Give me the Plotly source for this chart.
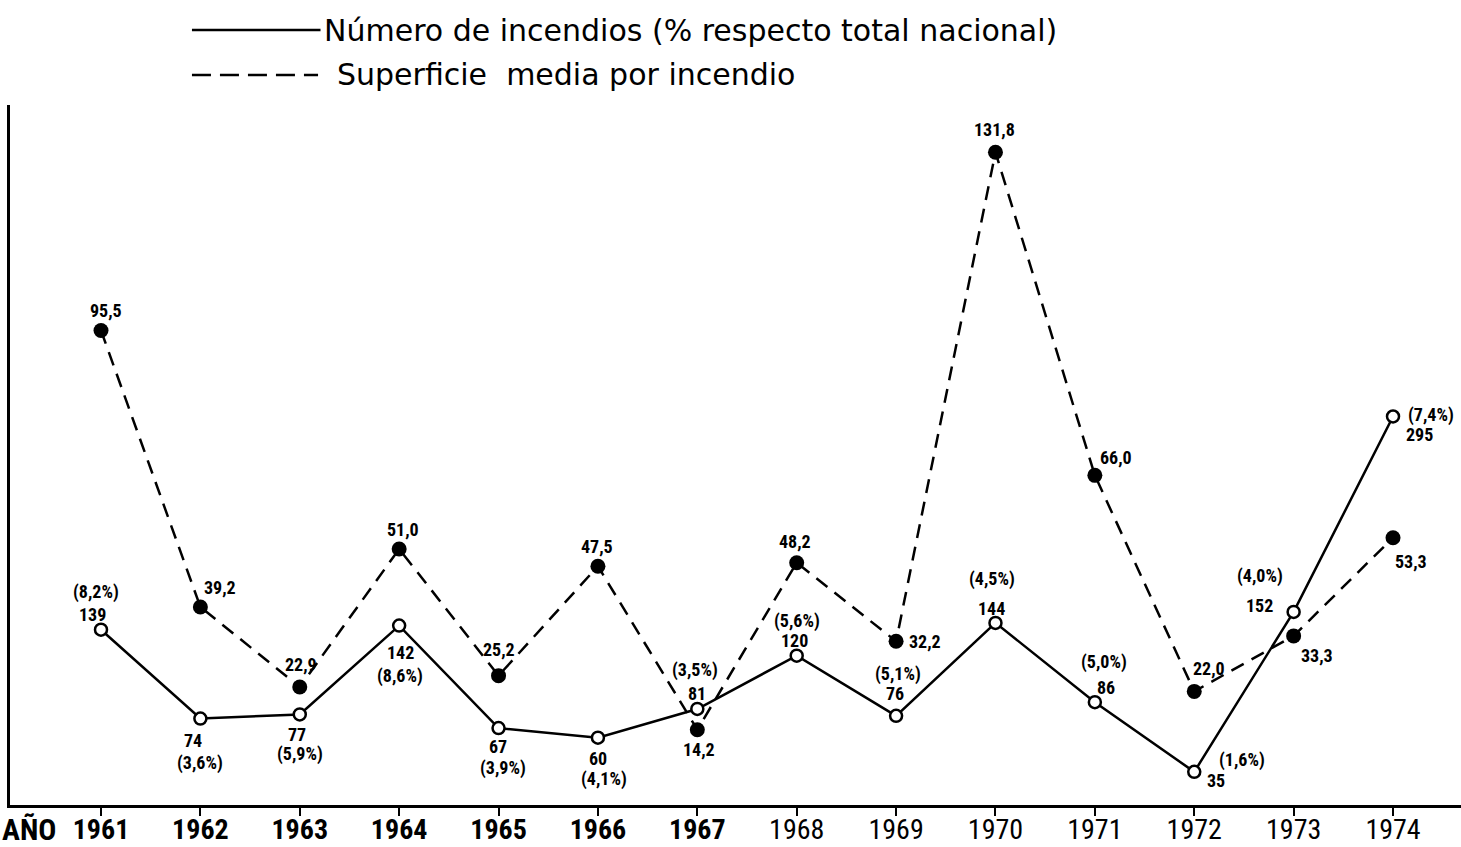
import plotly.graph_objects as go

# data
years = list(range(1961, 1975))
num_incendios = [139, 74, 77, 142, 67, 60, 81, 120, 76, 144, 86, 35, 152, 295]
pct_nacional = ["8,2", "3,6", "5,9", "8,6", "3,9", "4,1", "3,5", "5,6", "5,1",
                "4,5", "5,0", "1,6", "4,0", "7,4"]
superficie_media = [95.5, 39.2, 22.9, 51.0, 25.2, 47.5, 14.2, 48.2, 32.2,
                    131.8, 66.0, 22.0, 33.3, 53.3]

# label offsets in screen pixels (dx, dy) from each marker
sup_off = [(5, -20), (20, -19), (1, -22), (4, -20), (0, -26), (-1, -20), (2, 20),
           (-2, -21), (29, 0), (-1, -23), (21, -18), (15, -23), (23, 20), (18, 24)]
num_off = [(-9, -15), (-7, 22), (-3, 20), (1, 27), (-1, 18), (0, 21), (0, -15),
           (-2, -15), (-1, -22), (-4, -14), (11, -15), (22, 9), (-34, -6), (26, 18)]
pct_off = [(-5, -38), (0, 44), (0, 40), (1, 50), (4, 40), (6, 41), (-2, -39),
           (0, -35), (2, -42), (-3, -44), (9, -40), (48, -12), (-34, -36), (38, -1)]

FONT = "Liberation Sans Narrow, Roboto Condensed, Arial Narrow, DejaVu Sans Condensed, Roboto"
LBL = dict(family=FONT, size=18, color="black")

fig = go.Figure()

fig.add_trace(go.Scatter(
    x=years, y=superficie_media, yaxis="y2", mode="lines+markers",
    line=dict(color="black", width=2.5, dash="14px,9px"),
    marker=dict(color="black", size=15),
    showlegend=False, hoverinfo="x+y",
))
fig.add_trace(go.Scatter(
    x=years, y=num_incendios, mode="lines+markers",
    line=dict(color="black", width=2.5),
    marker=dict(color="white", size=12, line=dict(color="black", width=2.5)),
    showlegend=False, hoverinfo="x+y",
))

ann = []
for yr, v, (dx, dy) in zip(years, superficie_media, sup_off):
    ann.append(dict(x=yr, y=v, xref="x", yref="y2", text="<b>%s</b>" % f"{v:.1f}".replace(".", ","),
                    showarrow=False, xshift=dx, yshift=-dy, font=LBL))
for yr, v, p, (dx, dy), (px, py) in zip(years, num_incendios, pct_nacional, num_off, pct_off):
    ann.append(dict(x=yr, y=v, xref="x", yref="y", text=f"<b>{v}</b>",
                    showarrow=False, xshift=dx, yshift=-dy, font=LBL))
    ann.append(dict(x=yr, y=v, xref="x", yref="y", text=f"<b>({p}%)</b>",
                    showarrow=False, xshift=px, yshift=-py, font=LBL))

# "AÑO" before the first year
ann.append(dict(x=-0.0069, y=-0.035, xref="paper", yref="paper", text="<b>AÑO</b>",
                showarrow=False, xanchor="left", yanchor="middle",
                font=dict(family=FONT, size=30, color="black")))

# legend drawn by hand
LEG = dict(family="DejaVu Sans, Open Sans", size=30, color="black")
ann.append(dict(x=0.2150, y=1.107, xref="paper", yref="paper",
                text="Número de incendios (% respecto total nacional)",
                showarrow=False, xanchor="left", yanchor="middle", font=LEG))
ann.append(dict(x=0.2240, y=1.043, xref="paper", yref="paper",
                text="Superficie  media por incendio",
                showarrow=False, xanchor="left", yanchor="middle", font=LEG))
shapes = [
    dict(type="line", xref="paper", yref="paper", x0=0.1254, x1=0.2140, y0=1.107, y1=1.107,
         line=dict(color="black", width=2.5)),
    dict(type="line", xref="paper", yref="paper", x0=0.1254, x1=0.2123, y0=1.043, y1=1.043,
         line=dict(color="black", width=2.5, dash="19px,9px")),
]

ticktext = [f"<b>{y}</b>" if y <= 1967 else str(y) for y in years]

fig.update_layout(
    template="none",
    width=1461, height=847,
    margin=dict(l=10, r=0, t=105, b=42),
    paper_bgcolor="white", plot_bgcolor="white",
    annotations=ann, shapes=shapes,
    xaxis=dict(range=[1960.0844, 1974.684], tickmode="array", tickvals=years,
               ticktext=ticktext, showgrid=False, zeroline=False, automargin=False,
               showline=True, linecolor="black", linewidth=3,
               ticks="outside", ticklen=8, tickwidth=2, tickcolor="black",
               ticklabelstandoff=-11,
               tickfont=dict(family=FONT, size=28, color="black")),
    yaxis=dict(range=[10.75, 522.9], showgrid=False, zeroline=False, automargin=False,
               showticklabels=False, showline=True, linecolor="black", linewidth=3),
    yaxis2=dict(range=[-1.14, 141.43], overlaying="y", showgrid=False, zeroline=False,
                automargin=False, showticklabels=False, showline=False),
)

# drop the default 8px page margin so the figure fills the window exactly
fig.write_html("out.html", config={"displayModeBar": False},
               post_script="document.body.style.margin='0';")
